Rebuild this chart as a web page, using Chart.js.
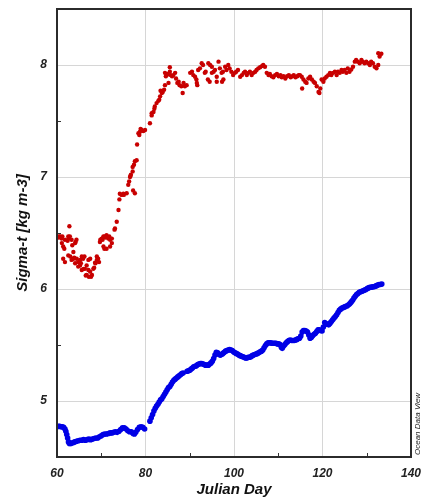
<!DOCTYPE html>
<html>
<head>
<meta charset="utf-8">
<script src="https://cdn.jsdelivr.net/npm/chart.js@4/dist/chart.umd.min.js"></script>
<style>
  html, body { margin: 0; padding: 0; background: #fff; }
  #wrap { width: 424px; height: 497px; position: relative; }
</style>
</head>
<body>
<div id="wrap"><canvas id="sigma"></canvas></div>
<script>
// axis ticks
const xTicks = [60, 80, 100, 120, 140]
const yTicks = [5, 6, 7, 8]
const xMinorTicks = [70, 90, 110, 130]
const yMinorTicks = [5.5, 6.5, 7.5]

// surface sigma-t, [julian day, kg m-3]
const surfacePoints = [
  [60.3, 6.46], [60.45, 6.47], [60.7, 6.47], [60.9, 6.46], [61.05, 6.45], [61.2, 6.47],
  [61.1, 6.41], [61.4, 6.38], [61.4, 6.27], [61.65, 6.36], [61.8, 6.44], [61.8, 6.24],
  [62.4, 6.43], [62.55, 6.47], [62.6, 6.45], [62.55, 6.30], [62.8, 6.56], [62.9, 6.47],
  [63.0, 6.29], [63.3, 6.44], [63.3, 6.26], [63.45, 6.39], [63.7, 6.33], [63.7, 6.27],
  [63.9, 6.28], [64.1, 6.41], [64.1, 6.23], [64.2, 6.42], [64.4, 6.44], [64.45, 6.27],
  [64.8, 6.24], [64.8, 6.20], [65.2, 6.26], [65.2, 6.21], [65.4, 6.23], [65.6, 6.29],
  [65.6, 6.17], [65.9, 6.27], [66.0, 6.18], [66.2, 6.29], [66.3, 6.18], [66.5, 6.12],
  [66.7, 6.21], [66.7, 6.125], [67.1, 6.26], [67.1, 6.17], [67.2, 6.11], [67.5, 6.27],
  [67.5, 6.155], [67.7, 6.11], [67.9, 6.125], [68.2, 6.18], [68.4, 6.19], [68.6, 6.235],
  [68.7, 6.23], [69.0, 6.29], [69.0, 6.26], [69.3, 6.27], [69.5, 6.24],
  [69.7, 6.42], [69.8, 6.44], [70.1, 6.45], [70.3, 6.44], [70.5, 6.47], [70.5, 6.38],
  [70.7, 6.36], [70.8, 6.47], [71.0, 6.46], [71.2, 6.48], [71.2, 6.36], [71.6, 6.45],
  [71.8, 6.47], [72.0, 6.44], [72.0, 6.38], [72.4, 6.45], [72.4, 6.41],
  [73.0, 6.53], [73.1, 6.54], [73.5, 6.60], [73.9, 6.705], [74.1, 6.80], [74.2, 6.85],
  [74.6, 6.84], [75.0, 6.85], [75.1, 6.84], [75.75, 6.855], [76.1, 6.93], [76.3, 6.96],
  [76.5, 7.00], [76.6, 7.01], [76.7, 7.02], [77.1, 7.05], [77.1, 7.09], [77.2, 6.88],
  [77.4, 7.11], [77.6, 7.14], [77.6, 6.855], [78.0, 7.15], [78.1, 7.29], [78.4, 7.39],
  [78.6, 7.375], [78.75, 7.405], [78.9, 7.43], [79.1, 7.42], [79.5, 7.41], [79.9, 7.42],
  [81.0, 7.48], [81.4, 7.55], [81.4, 7.57], [81.8, 7.58], [82.0, 7.61], [82.1, 7.63],
  [82.5, 7.66], [82.9, 7.68], [83.1, 7.69], [83.3, 7.72], [83.4, 7.77], [83.7, 7.75],
  [83.9, 7.76], [84.2, 7.78], [84.4, 7.82], [84.4, 7.93], [84.6, 7.90], [84.8, 7.91],
  [85.0, 7.92], [85.2, 7.84], [85.5, 7.98], [85.5, 7.94], [85.7, 7.91], [86.0, 7.90],
  [86.3, 7.91], [86.7, 7.93], [86.9, 7.88], [87.2, 7.84], [87.5, 7.85], [87.7, 7.82],
  [88.1, 7.81], [88.4, 7.75], [88.6, 7.84], [88.9, 7.81], [89.3, 7.82],
  [90.1, 7.93], [90.5, 7.94], [90.8, 7.91], [91.2, 7.895], [91.5, 7.87], [91.6, 7.84],
  [91.7, 7.82], [91.9, 7.955], [92.3, 7.97], [92.7, 8.015], [93.0, 8.0], [93.4, 7.93],
  [93.6, 7.94], [94.1, 7.87], [94.2, 8.015], [94.5, 7.85], [94.6, 8.0], [95.0, 7.985],
  [95.0, 7.93], [95.4, 7.94], [95.7, 7.955], [96.1, 7.895], [96.1, 7.85], [96.5, 8.03],
  [96.8, 7.97], [97.2, 7.93], [97.3, 7.85], [97.5, 7.94], [97.6, 7.87], [98.0, 7.985],
  [98.3, 7.955], [98.7, 8.0], [99.0, 7.97], [99.4, 7.94], [99.8, 7.91], [100.2, 7.93],
  [100.5, 7.94], [100.9, 7.955],
  [101.4, 7.895], [101.8, 7.91], [102.2, 7.93], [102.5, 7.94], [102.9, 7.91], [103.3, 7.93],
  [103.6, 7.94], [104.0, 7.91], [104.4, 7.93], [104.8, 7.94], [105.1, 7.955], [105.5, 7.97],
  [105.9, 7.98], [106.3, 7.99], [106.6, 8.0], [107.0, 7.985], [107.4, 7.93], [107.8, 7.91],
  [108.1, 7.92], [108.5, 7.90], [108.9, 7.89], [109.3, 7.91], [109.7, 7.92], [110.1, 7.90],
  [110.5, 7.91], [110.8, 7.89], [111.2, 7.90], [111.6, 7.88], [112.0, 7.90], [112.4, 7.91],
  [112.8, 7.89], [113.2, 7.90], [113.5, 7.91], [113.9, 7.89], [114.3, 7.90], [114.6, 7.91],
  [114.9, 7.91], [115.3, 7.895], [115.4, 7.79], [115.7, 7.87], [116.1, 7.85], [116.4, 7.84],
  [116.8, 7.88], [117.2, 7.895], [117.6, 7.87], [118.0, 7.85], [118.3, 7.84], [118.7, 7.81],
  [119.1, 7.76], [119.3, 7.75], [119.5, 7.79], [119.8, 7.87], [120.2, 7.85], [120.5, 7.88],
  [120.9, 7.895], [121.3, 7.91], [121.7, 7.93], [122.0, 7.91], [122.4, 7.93], [122.8, 7.94],
  [123.2, 7.91], [123.5, 7.94], [123.9, 7.93], [124.3, 7.955], [124.6, 7.94], [125.0, 7.955],
  [125.4, 7.93], [125.7, 7.97], [126.1, 7.94], [126.5, 7.96], [126.9, 7.985], [127.3, 8.03],
  [127.6, 8.045], [128.0, 8.03], [128.4, 8.015], [128.8, 8.045], [129.1, 8.03], [129.5, 8.015],
  [129.9, 8.03], [130.3, 8.015], [130.7, 8.0], [131.0, 8.03], [131.4, 8.015], [131.8, 7.985],
  [132.2, 7.97], [132.6, 8.0], [132.6, 8.105], [132.9, 8.075], [133.3, 8.10]
]

// near-bottom sigma-t, [julian day, kg m-3]
const bottomPoints = [
  [60.0, 4.77], [60.3, 4.775], [60.6, 4.775], [60.9, 4.77], [61.2, 4.77], [61.5, 4.765],
  [61.8, 4.75], [62.0, 4.73], [62.2, 4.70], [62.4, 4.67], [62.6, 4.635], [62.8, 4.62],
  [63.1, 4.62], [63.4, 4.625], [63.7, 4.63], [64.0, 4.635], [64.4, 4.64], [64.8, 4.645],
  [65.2, 4.65], [65.6, 4.65], [66.0, 4.655], [66.4, 4.65], [66.8, 4.655], [67.2, 4.66],
  [67.6, 4.655], [68.0, 4.66], [68.4, 4.665], [68.8, 4.67], [69.2, 4.67], [69.6, 4.68],
  [70.0, 4.69], [70.4, 4.70], [70.8, 4.705], [71.2, 4.705], [71.6, 4.71], [72.0, 4.715],
  [72.4, 4.715], [72.8, 4.72], [73.2, 4.725], [73.6, 4.72], [74.0, 4.73], [74.4, 4.745],
  [74.8, 4.76], [75.2, 4.76], [75.6, 4.75], [76.0, 4.735], [76.4, 4.725], [76.8, 4.725],
  [77.2, 4.71], [77.5, 4.705], [77.8, 4.72], [78.2, 4.745], [78.6, 4.765], [79.0, 4.77],
  [79.4, 4.765], [79.8, 4.75],
  [81.0, 4.82], [81.3, 4.85], [81.6, 4.88], [81.9, 4.91], [82.2, 4.935], [82.5, 4.955],
  [82.8, 4.97], [83.1, 4.99], [83.4, 5.01], [83.7, 5.02], [84.0, 5.04], [84.3, 5.06],
  [84.6, 5.08], [84.9, 5.10], [85.2, 5.12], [85.5, 5.13], [85.8, 5.15], [86.1, 5.17],
  [86.4, 5.185], [86.7, 5.195], [87.0, 5.205], [87.3, 5.215], [87.6, 5.225], [87.9, 5.235],
  [88.2, 5.245], [88.5, 5.25],
  [89.4, 5.265], [89.7, 5.27], [90.0, 5.275], [90.3, 5.285], [90.6, 5.295], [90.9, 5.305],
  [91.2, 5.31], [91.5, 5.315], [91.8, 5.325], [92.1, 5.33], [92.4, 5.335], [92.7, 5.335],
  [93.0, 5.33], [93.3, 5.325], [93.6, 5.32], [93.9, 5.32], [94.2, 5.32], [94.5, 5.33],
  [94.8, 5.34], [95.1, 5.355], [95.4, 5.38], [95.7, 5.41], [96.0, 5.435], [96.3, 5.43],
  [96.6, 5.415], [96.9, 5.41], [97.2, 5.415], [97.5, 5.425], [97.8, 5.435], [98.1, 5.445],
  [98.4, 5.45], [98.7, 5.455], [99.0, 5.46], [99.3, 5.455], [99.6, 5.45], [99.9, 5.44],
  [100.2, 5.43], [100.5, 5.425], [100.8, 5.42], [101.1, 5.41], [101.4, 5.405], [101.7, 5.40],
  [102.0, 5.395], [102.3, 5.39], [102.6, 5.385], [102.9, 5.385], [103.2, 5.39], [103.5, 5.39],
  [103.8, 5.395], [104.1, 5.405], [104.4, 5.41], [104.7, 5.415], [105.0, 5.42], [105.3, 5.425],
  [105.6, 5.43], [105.9, 5.44], [106.2, 5.445], [106.5, 5.455], [106.8, 5.475], [107.1, 5.495],
  [107.4, 5.51], [107.7, 5.52], [108.0, 5.52], [108.3, 5.52], [108.6, 5.515], [108.9, 5.515],
  [109.2, 5.515], [109.5, 5.515], [109.8, 5.51], [110.1, 5.51], [110.4, 5.505], [110.7, 5.48],
  [110.9, 5.47], [111.2, 5.49], [111.5, 5.505], [111.8, 5.52], [112.1, 5.53], [112.4, 5.54],
  [112.7, 5.545], [113.0, 5.54], [113.3, 5.54], [113.6, 5.54], [113.9, 5.545], [114.2, 5.55],
  [114.5, 5.555], [114.8, 5.56], [115.1, 5.58], [115.4, 5.615], [115.7, 5.63], [116.0, 5.63],
  [116.3, 5.625], [116.6, 5.615], [116.9, 5.59], [117.2, 5.56], [117.5, 5.57], [117.8, 5.585],
  [118.1, 5.595], [118.4, 5.605], [118.7, 5.62], [119.0, 5.635], [119.3, 5.635], [119.6, 5.63],
  [119.9, 5.625], [120.2, 5.66], [120.5, 5.70], [120.8, 5.69], [121.1, 5.685], [121.4, 5.68],
  [121.7, 5.695], [122.0, 5.71], [122.3, 5.725], [122.6, 5.74], [122.9, 5.755], [123.2, 5.77],
  [123.5, 5.79], [123.8, 5.81], [124.1, 5.82], [124.4, 5.83], [124.7, 5.835], [125.0, 5.84],
  [125.3, 5.845], [125.6, 5.85], [125.9, 5.86], [126.2, 5.87], [126.5, 5.885], [126.8, 5.90],
  [127.1, 5.92], [127.4, 5.935], [127.7, 5.95], [128.0, 5.96], [128.3, 5.97], [128.6, 5.975],
  [128.9, 5.98], [129.2, 5.985], [129.5, 5.99], [129.8, 5.995], [130.1, 6.005], [130.4, 6.01],
  [130.7, 6.015], [131.0, 6.015], [131.3, 6.02], [131.6, 6.02], [131.9, 6.025], [132.2, 6.03],
  [132.5, 6.035], [132.8, 6.04], [133.1, 6.04], [133.4, 6.045]
]

const toXY = pts => pts.map(([x, y]) => ({ x, y }))

const fontFamily = '"Liberation Sans", Arial, sans-serif'
const tickFont = { family: fontFamily, size: 12, style: 'italic', weight: 'bold' }
const titleFont = { family: fontFamily, size: 15, style: 'italic', weight: 'bold' }

// box frame, inner minor ticks and the ODV tag on the right edge
const framePlugin = {
  id: 'frame',
  afterDatasetsDraw(chart) {
    const { ctx, chartArea: a, scales: { x, y } } = chart
    ctx.save()
    ctx.strokeStyle = '#333'
    ctx.lineWidth = 1
    ctx.beginPath()
    xMinorTicks.forEach(v => {
      const px = Math.round(x.getPixelForValue(v)) + 0.5
      ctx.moveTo(px, a.bottom)
      ctx.lineTo(px, a.bottom - 4)
    })
    yMinorTicks.forEach(v => {
      const py = Math.round(y.getPixelForValue(v)) + 0.5
      ctx.moveTo(a.left, py)
      ctx.lineTo(a.left + 4, py)
    })
    ctx.stroke()

    ctx.strokeStyle = '#2b2b2b'
    ctx.lineWidth = 2
    ctx.strokeRect(a.left, a.top, a.right - a.left, a.bottom - a.top)

    ctx.translate(a.right + 7, a.bottom - 2)
    ctx.rotate(-Math.PI / 2)
    ctx.fillStyle = '#222'
    ctx.font = 'italic 8px ' + fontFamily
    ctx.textAlign = 'left'
    ctx.textBaseline = 'middle'
    ctx.fillText('Ocean Data View', 0, 0)
    ctx.restore()
  }
}

new Chart(document.getElementById('sigma'), {
  type: 'scatter',
  data: {
    datasets: [
      {
        label: 'bottom',
        data: toXY(bottomPoints),
        pointRadius: 2.8,
        pointBackgroundColor: '#0000e6',
        pointBorderWidth: 0
      },
      {
        label: 'surface',
        data: toXY(surfacePoints),
        pointRadius: 2.2,
        pointBackgroundColor: '#c80000',
        pointBorderWidth: 0
      }
    ]
  },
  options: {
    responsive: true,
    maintainAspectRatio: false,
    animation: false,
    layout: { padding: { top: 9, right: 13, left: 0, bottom: 0 } },
    plugins: {
      legend: { display: false },
      tooltip: { enabled: false }
    },
    scales: {
      x: {
        type: 'linear',
        min: 60,
        max: 140,
        afterBuildTicks: scale => { scale.ticks = xTicks.map(value => ({ value })) },
        afterFit: scale => {
          scale.height = 40
          scale.paddingLeft = 0
          scale.paddingRight = 0
        },
        grid: { color: '#d6d6d6', lineWidth: 1, drawTicks: false },
        border: { display: false },
        ticks: { font: tickFont, color: '#222', padding: 9, maxRotation: 0 },
        title: {
          display: true,
          text: 'Julian Day',
          font: { ...titleFont, lineHeight: 1 },
          color: '#111',
          padding: { top: 0, bottom: 0 }
        }
      },
      y: {
        type: 'linear',
        min: 4.5,
        max: 8.5,
        afterBuildTicks: scale => { scale.ticks = yTicks.map(value => ({ value })) },
        afterFit: scale => {
          scale.width = 57
          scale.paddingTop = 0
          scale.paddingBottom = 0
        },
        grid: { color: '#d6d6d6', lineWidth: 1, drawTicks: false },
        border: { display: false },
        ticks: { font: tickFont, color: '#222', padding: 10 },
        title: { display: true, text: 'Sigma-t [kg m-3]', font: titleFont, color: '#111', padding: { top: 14, bottom: 0 } }
      }
    }
  },
  plugins: [framePlugin]
})
</script>
</body>
</html>
